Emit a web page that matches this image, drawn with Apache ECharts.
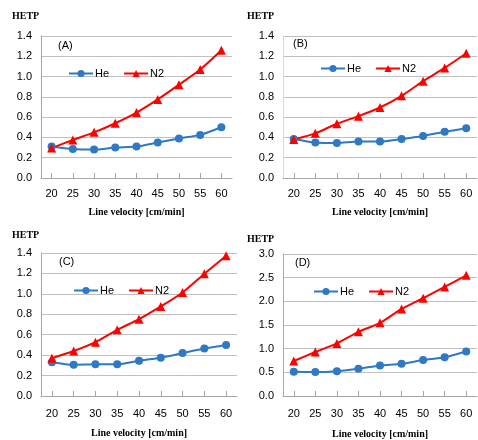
<!DOCTYPE html>
<html><head><meta charset="utf-8">
<script src="https://cdn.jsdelivr.net/npm/echarts@6/dist/echarts.min.js"></script>
<style>html,body{margin:0;padding:0;background:#fff}#c{width:478px;height:440px}</style>
</head><body><div id="c"></div>
<script>
var categories = ['20','25','30','35','40','45','50','55','60'];
var heA = [0.31,0.285,0.28,0.30,0.31,0.35,0.39,0.425,0.50];
var n2A = [0.295,0.375,0.45,0.54,0.645,0.775,0.92,1.07,1.26];
var heB = [0.385,0.35,0.345,0.36,0.36,0.385,0.415,0.455,0.49];
var n2B = [0.38,0.44,0.535,0.61,0.695,0.81,0.955,1.085,1.23];
var heC = [0.33,0.305,0.31,0.31,0.345,0.375,0.42,0.465,0.50];
var n2C = [0.37,0.44,0.527,0.648,0.752,0.877,1.014,1.197,1.374];
var heD = [0.51,0.505,0.525,0.575,0.645,0.68,0.76,0.82,0.94];
var n2D = [0.74,0.93,1.11,1.355,1.545,1.84,2.065,2.305,2.55];
var panelLabels = ['(A)','(B)','(C)','(D)'];
var yMax = [1.4,1.4,1.4,3.0];
var yStep = [0.2,0.2,0.2,0.5];
var seriesNames = ['He','N2'];
var xTitle = 'Line velocity [cm/min]';
var yTitle = 'HETP';

var heAll = [heA,heB,heC,heD];
var n2All = [n2A,n2B,n2C,n2D];
var BLUE = '#2e78c4', RED = '#ff0000';
var sans = '"Liberation Sans", Arial, sans-serif';
var serif = '"Liberation Serif", "Times New Roman", serif';

var grids = [
  {left:41, top:36, width:191, height:142},
  {left:283, top:36, width:194, height:142},
  {left:41, top:253, width:196, height:143},
  {left:283, top:254, width:194, height:143}
];
var legendPos = [{left:63, top:63},{left:315, top:58},{left:68, top:280},{left:308, top:281}];
var panelPos = [[58,47],[293,45],[59,263],[295,264]];
var titlePos = [[12,17],[247,17],[12,236],[247,240]];
var nameGaps = [29,29,32,33];

var option = {
  animation:false,
  backgroundColor:'#fff',
  grid: grids.map(function(g){return Object.assign({containLabel:false}, g);}),
  xAxis: grids.map(function(g,i){return {
    type:'category', gridIndex:i, data:categories, boundaryGap:true,
    axisLine:{show:true, lineStyle:{color:'#a6a6a6', width:1}},
    axisTick:{show:true, inside:true, alignWithLabel:true, length:5, lineStyle:{color:'#a6a6a6'}},
    axisLabel:{color:'#000', fontFamily:sans, fontSize:11, margin:i<2?10:12},
    splitLine:{show:false},
    name:xTitle, nameLocation:'middle', nameGap:nameGaps[i],
    nameTextStyle:{fontFamily:serif, fontSize:10, fontWeight:'bold', color:'#000'}
  };}),
  yAxis: grids.map(function(g,i){return {
    type:'value', gridIndex:i, min:0, max:yMax[i], interval:yStep[i],
    axisLine:{show:true, lineStyle:{color:i==1?'#d9d9d9':'#a6a6a6'}},
    axisTick:{show:false},
    axisLabel:{color:'#000', fontFamily:sans, fontSize:11, margin:9,
      formatter:function(v){return v.toFixed(1);}},
    splitLine:{show:true, lineStyle:{color:'#bfbfbf', width:1}}
  };}),
  legend: legendPos.map(function(p,i){return {
    left:p.left, top:p.top, orient:'horizontal', itemWidth:24, itemHeight:9, itemGap:14,
    textStyle:{fontFamily:sans, fontSize:11, color:'#000', padding:[0,0,0,-3]},
    data:[{name:seriesNames[0]+'\u200b'.repeat(i)},{name:seriesNames[1]+'\u200b'.repeat(i)}]
  };}),
  graphic: [],
  series: []
};
for (var i=0;i<4;i++){
  option.series.push({
    name:seriesNames[0]+'\u200b'.repeat(i), type:'line', xAxisIndex:i, yAxisIndex:i,
    data:heAll[i], smooth:0.25, symbol:'circle', symbolSize:8,
    lineStyle:{color:BLUE, width:2}, itemStyle:{color:BLUE}
  });
  option.series.push({
    name:seriesNames[1]+'\u200b'.repeat(i), type:'line', xAxisIndex:i, yAxisIndex:i,
    data:n2All[i], smooth:0.25, symbol:'triangle', symbolSize:9,
    lineStyle:{color:RED, width:2}, itemStyle:{color:RED}
  });
  option.graphic.push({type:'text', left:panelPos[i][0], top:panelPos[i][1]-7,
    style:{text:panelLabels[i], font:'11px '+sans, fill:'#000'}});
  option.graphic.push({type:'text', left:titlePos[i][0], top:titlePos[i][1]-6,
    style:{text:yTitle, font:'bold 10px '+serif, fill:'#000'}});
}
var chart = echarts.init(document.getElementById('c'), null, {renderer:'canvas'});
chart.setOption(option);
</script></body></html>
